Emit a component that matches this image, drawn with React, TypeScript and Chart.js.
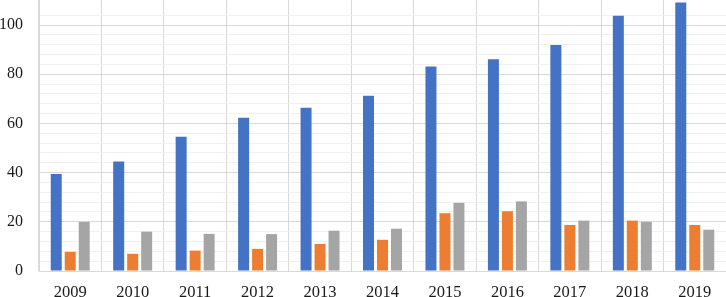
import React, { useEffect, useRef } from "react";
import { Chart, registerables } from "chart.js";

Chart.register(...registerables);

const categories = ["2009", "2010", "2011", "2012", "2013", "2014", "2015", "2016", "2017", "2018", "2019"];
const seriesA = [39.4, 44.5, 54.6, 62.3, 66.4, 71.3, 83.2, 86.1, 91.9, 103.8, 109.2];
const seriesB = [7.8, 7.0, 8.3, 9.0, 11.0, 12.7, 23.5, 24.3, 18.7, 20.5, 18.7];
const seriesC = [20.0, 16.0, 15.1, 15.0, 16.4, 17.2, 27.7, 28.3, 20.5, 20.0, 16.8];
const yTicksMajor = [0, 20, 40, 60, 80, 100];

export default function App() {
  const ref = useRef<HTMLCanvasElement | null>(null);

  useEffect(() => {
    document.body.style.margin = "0";
    const canvas = ref.current;
    if (!canvas) return;
    const chart = new Chart(canvas, {
      type: "bar",
      data: {
        labels: categories,
        datasets: [
          { label: "A", data: seriesA, backgroundColor: "#4472C4" },
          { label: "B", data: seriesB, backgroundColor: "#ED7D31" },
          { label: "C", data: seriesC, backgroundColor: "#A5A5A5" },
        ],
      },
      options: {
        animation: false,
        responsive: false,
        maintainAspectRatio: false,
        layout: { padding: 0 },
        plugins: { legend: { display: false }, tooltip: { enabled: false } },
        datasets: { bar: { categoryPercentage: 0.672, barPercentage: 0.786 } },
        scales: {
          x: {
            grid: { offset: true, color: "#d9d9d9", drawTicks: false },
            border: { color: "#d9d9d9" },
            ticks: {
              padding: 12,
              color: "#1a1a1a",
              font: { family: "Liberation Serif", size: 16.5 },
              maxRotation: 0,
            },
            afterFit: (s: any) => {
              s.height = 26;
              s.paddingLeft = 0;
              s.paddingRight = 0;
            },
          },
          y: {
            min: 0,
            max: 110.2,
            grid: {
              drawTicks: false,
              color: (ctx: any) => {
                const v = ctx.tick ? ctx.tick.value : 0;
                if (v > 108) return "rgba(0,0,0,0)";
                return yTicksMajor.includes(v) ? "#d9d9d9" : "#f0f0f0";
              },
            },
            border: { color: "#d9d9d9" },
            ticks: {
              stepSize: 4,
              padding: 16,
              color: "#1a1a1a",
              font: { family: "Liberation Serif", size: 16 },
              autoSkip: false,
              callback: (v: any) => (yTicksMajor.includes(Number(v)) ? String(v) : ""),
            },
            afterFit: (s: any) => {
              s.width = 39;
              s.paddingTop = 0;
              s.paddingBottom = 0;
            },
          },
        },
      },
    });
    return () => chart.destroy();
  }, []);

  return (
    <div style={{ position: "fixed", left: 0, top: 0, width: 726, height: 297, background: "#fff" }}>
      <canvas ref={ref} width={726} height={297} style={{ width: 726, height: 297 }} />
    </div>
  );
}
